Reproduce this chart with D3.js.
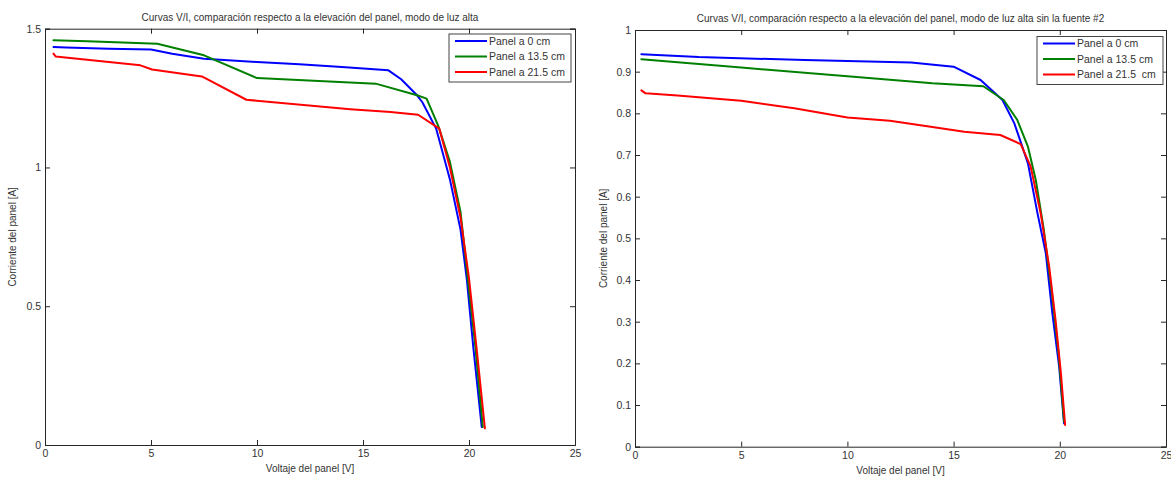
<!DOCTYPE html>
<html>
<head>
<meta charset="utf-8">
<script src="https://cdn.jsdelivr.net/npm/d3@7"></script>
<style>
  html, body { margin: 0; padding: 0; background: #ffffff; }
  svg { display: block; font-family: "Liberation Sans", Arial, sans-serif; }
</style>
</head>
<body>
<svg id="chart" width="1171" height="477"></svg>
<script>
// ---------------- DATA ----------------
const titleLeft = "Curvas V/I, comparación respecto a la elevación del panel, modo de luz alta";
const titleRight = "Curvas V/I, comparación respecto a la elevación del panel, modo de luz alta sin la fuente #2";
const xLabel = "Voltaje del panel [V]";
const yLabel = "Corriente del panel [A]";
const legendLeft = ["Panel a 0 cm", "Panel a 13.5 cm", "Panel a 21.5 cm"];
const legendRight = ["Panel a 0 cm", "Panel a 13.5 cm", "Panel a 21.5  cm"];
const seriesColors = ["#0000ff", "#008000", "#ff0000"];

const xTicks = [0, 5, 10, 15, 20, 25];
const yTicksLeft = [0, 0.5, 1, 1.5];
const yTicksRight = [0, 0.1, 0.2, 0.3, 0.4, 0.5, 0.6, 0.7, 0.8, 0.9, 1];

// Left chart (modo de luz alta)
const leftBlueV = [0.4, 1, 3, 5, 6, 7.5, 10, 12, 14, 16.2, 16.8, 17.55, 17.8, 18.45, 19.1, 19.6, 19.9, 20.2, 20.6];
const leftBlueI = [1.434, 1.432, 1.428, 1.425, 1.41, 1.392, 1.38, 1.372, 1.362, 1.35, 1.318, 1.26, 1.235, 1.14, 0.957, 0.776, 0.596, 0.354, 0.065];
const leftGreenV = [0.4, 2, 5.3, 7.5, 10, 15.6, 17.55, 18, 18.55, 19.1, 19.6, 19.95, 20.3, 20.65];
const leftGreenI = [1.458, 1.455, 1.446, 1.404, 1.322, 1.302, 1.26, 1.248, 1.15, 1.02, 0.84, 0.595, 0.354, 0.065];
const leftRedV = [0.4, 0.5, 4.5, 5.05, 7.4, 9.5, 14.4, 16.3, 17.6, 18.6, 19.1, 19.6, 20.0, 20.35, 20.75];
const leftRedI = [1.41, 1.40, 1.368, 1.353, 1.328, 1.244, 1.21, 1.2, 1.19, 1.14, 1.0, 0.82, 0.6, 0.354, 0.06];

// Right chart (modo de luz alta sin la fuente #2)
const rightBlueV = [0.3, 3, 8, 13, 15, 16.27, 17.3, 17.86, 18.5, 18.95, 19.34, 19.65, 19.97, 20.2];
const rightBlueI = [0.942, 0.935, 0.928, 0.922, 0.912, 0.88, 0.832, 0.776, 0.68, 0.56, 0.465, 0.32, 0.192, 0.056];
const rightGreenV = [0.3, 5, 10, 14, 16.4, 17.36, 18, 18.5, 18.87, 19.25, 19.6, 19.95, 20.2];
const rightGreenI = [0.93, 0.91, 0.889, 0.872, 0.865, 0.832, 0.784, 0.72, 0.64, 0.52, 0.38, 0.22, 0.06];
const rightRedV = [0.3, 0.5, 2, 5, 7.5, 10, 12, 14, 15.5, 17.2, 18.16, 18.63, 19.1, 19.5, 19.8, 20.05, 20.25];
const rightRedI = [0.855, 0.848, 0.843, 0.83, 0.812, 0.79, 0.782, 0.767, 0.756, 0.748, 0.726, 0.672, 0.56, 0.432, 0.304, 0.177, 0.052];

// ---------------- DRAW ----------------
const svg = d3.select("#chart");
const axisColor = "#262626";
const textColor = "#333333";

function zip(v, i) { return v.map((d, k) => [d, i[k]]); }

function drawPanel(cfg) {
  const x = d3.scaleLinear().domain([0, 25]).range([cfg.left, cfg.right]);
  const y = d3.scaleLinear().domain(cfg.yDomain).range([cfg.bottom, cfg.top]);
  const g = svg.append("g");

  const fmt = d => (d === 0 ? "0" : d3.format("~g")(d));

  // bottom axis (labels)
  const bottom = g.append("g").attr("transform", `translate(0,${cfg.bottom})`)
    .call(d3.axisBottom(x).tickValues(xTicks).tickSize(-5).tickPadding(5).tickFormat(fmt));
  // top axis (ticks only)
  g.append("g").attr("transform", `translate(0,${cfg.top})`)
    .call(d3.axisTop(x).tickValues(xTicks).tickSize(-5).tickFormat(""));
  // left axis (labels)
  g.append("g").attr("transform", `translate(${cfg.left},0)`)
    .call(d3.axisLeft(y).tickValues(cfg.yTicks).tickSize(-5).tickPadding(4).tickFormat(fmt));
  // right axis (ticks only)
  g.append("g").attr("transform", `translate(${cfg.right},0)`)
    .call(d3.axisRight(y).tickValues(cfg.yTicks).tickSize(-5).tickFormat(""));

  g.selectAll(".domain").attr("stroke", axisColor).attr("stroke-width", 1);
  g.selectAll(".tick line").attr("stroke", axisColor);
  g.selectAll(".tick text").attr("fill", textColor).style("font-size", "10.5px")
    .style("font-family", "'Liberation Sans', Arial, sans-serif");

  // series
  const line = d3.line().x(d => x(d[0])).y(d => y(d[1]));
  cfg.series.forEach((s, k) => {
    g.append("path").datum(s)
      .attr("fill", "none")
      .attr("stroke", seriesColors[k])
      .attr("stroke-width", 2)
      .attr("stroke-linejoin", "round")
      .attr("stroke-linecap", "round")
      .attr("d", line);
  });

  // title
  g.append("text").attr("x", (cfg.left + cfg.right) / 2).attr("y", cfg.top - 8)
    .attr("text-anchor", "middle").attr("fill", textColor)
    .style("font-size", "10px").text(cfg.title);
  // x label
  g.append("text").attr("x", (cfg.left + cfg.right) / 2).attr("y", cfg.bottom + 27)
    .attr("text-anchor", "middle").attr("fill", textColor)
    .style("font-size", "10px").text(xLabel);
  // y label
  g.append("text")
    .attr("transform", `translate(${cfg.yLabelX},${(cfg.top + cfg.bottom) / 2}) rotate(-90)`)
    .attr("text-anchor", "middle").attr("fill", textColor)
    .style("font-size", "10px").text(yLabel);

  // legend
  const L = cfg.legend;
  const lg = g.append("g");
  lg.append("rect").attr("x", L.x).attr("y", L.y).attr("width", L.w).attr("height", L.h)
    .attr("fill", "#ffffff").attr("stroke", "#444444").attr("stroke-width", 1);
  cfg.legendLabels.forEach((lab, k) => {
    const yy = L.y + 7 + k * 15.5;
    lg.append("line").attr("x1", L.x + 6).attr("x2", L.x + 38).attr("y1", yy).attr("y2", yy)
      .attr("stroke", seriesColors[k]).attr("stroke-width", 2);
    lg.append("text").attr("x", L.x + 40).attr("y", yy).attr("dy", "0.35em")
      .attr("fill", textColor).style("font-size", "10.5px")
      .style("white-space", "pre").attr("xml:space", "preserve").text(lab);
  });
}

drawPanel({
  left: 45, right: 575, top: 28.7, bottom: 445,
  yDomain: [0, 1.5], yTicks: yTicksLeft,
  title: titleLeft, yLabelX: 16,
  series: [zip(leftBlueV, leftBlueI), zip(leftGreenV, leftGreenI), zip(leftRedV, leftRedI)],
  legendLabels: legendLeft,
  legend: { x: 449, y: 34, w: 122, h: 48 }
});

drawPanel({
  left: 635, right: 1166, top: 30, bottom: 446.7,
  yDomain: [0, 1], yTicks: yTicksRight,
  title: titleRight, yLabelX: 607,
  series: [zip(rightBlueV, rightBlueI), zip(rightGreenV, rightGreenI), zip(rightRedV, rightRedI)],
  legendLabels: legendRight,
  legend: { x: 1037, y: 36.5, w: 126, h: 48 }
});
</script>
</body>
</html>
